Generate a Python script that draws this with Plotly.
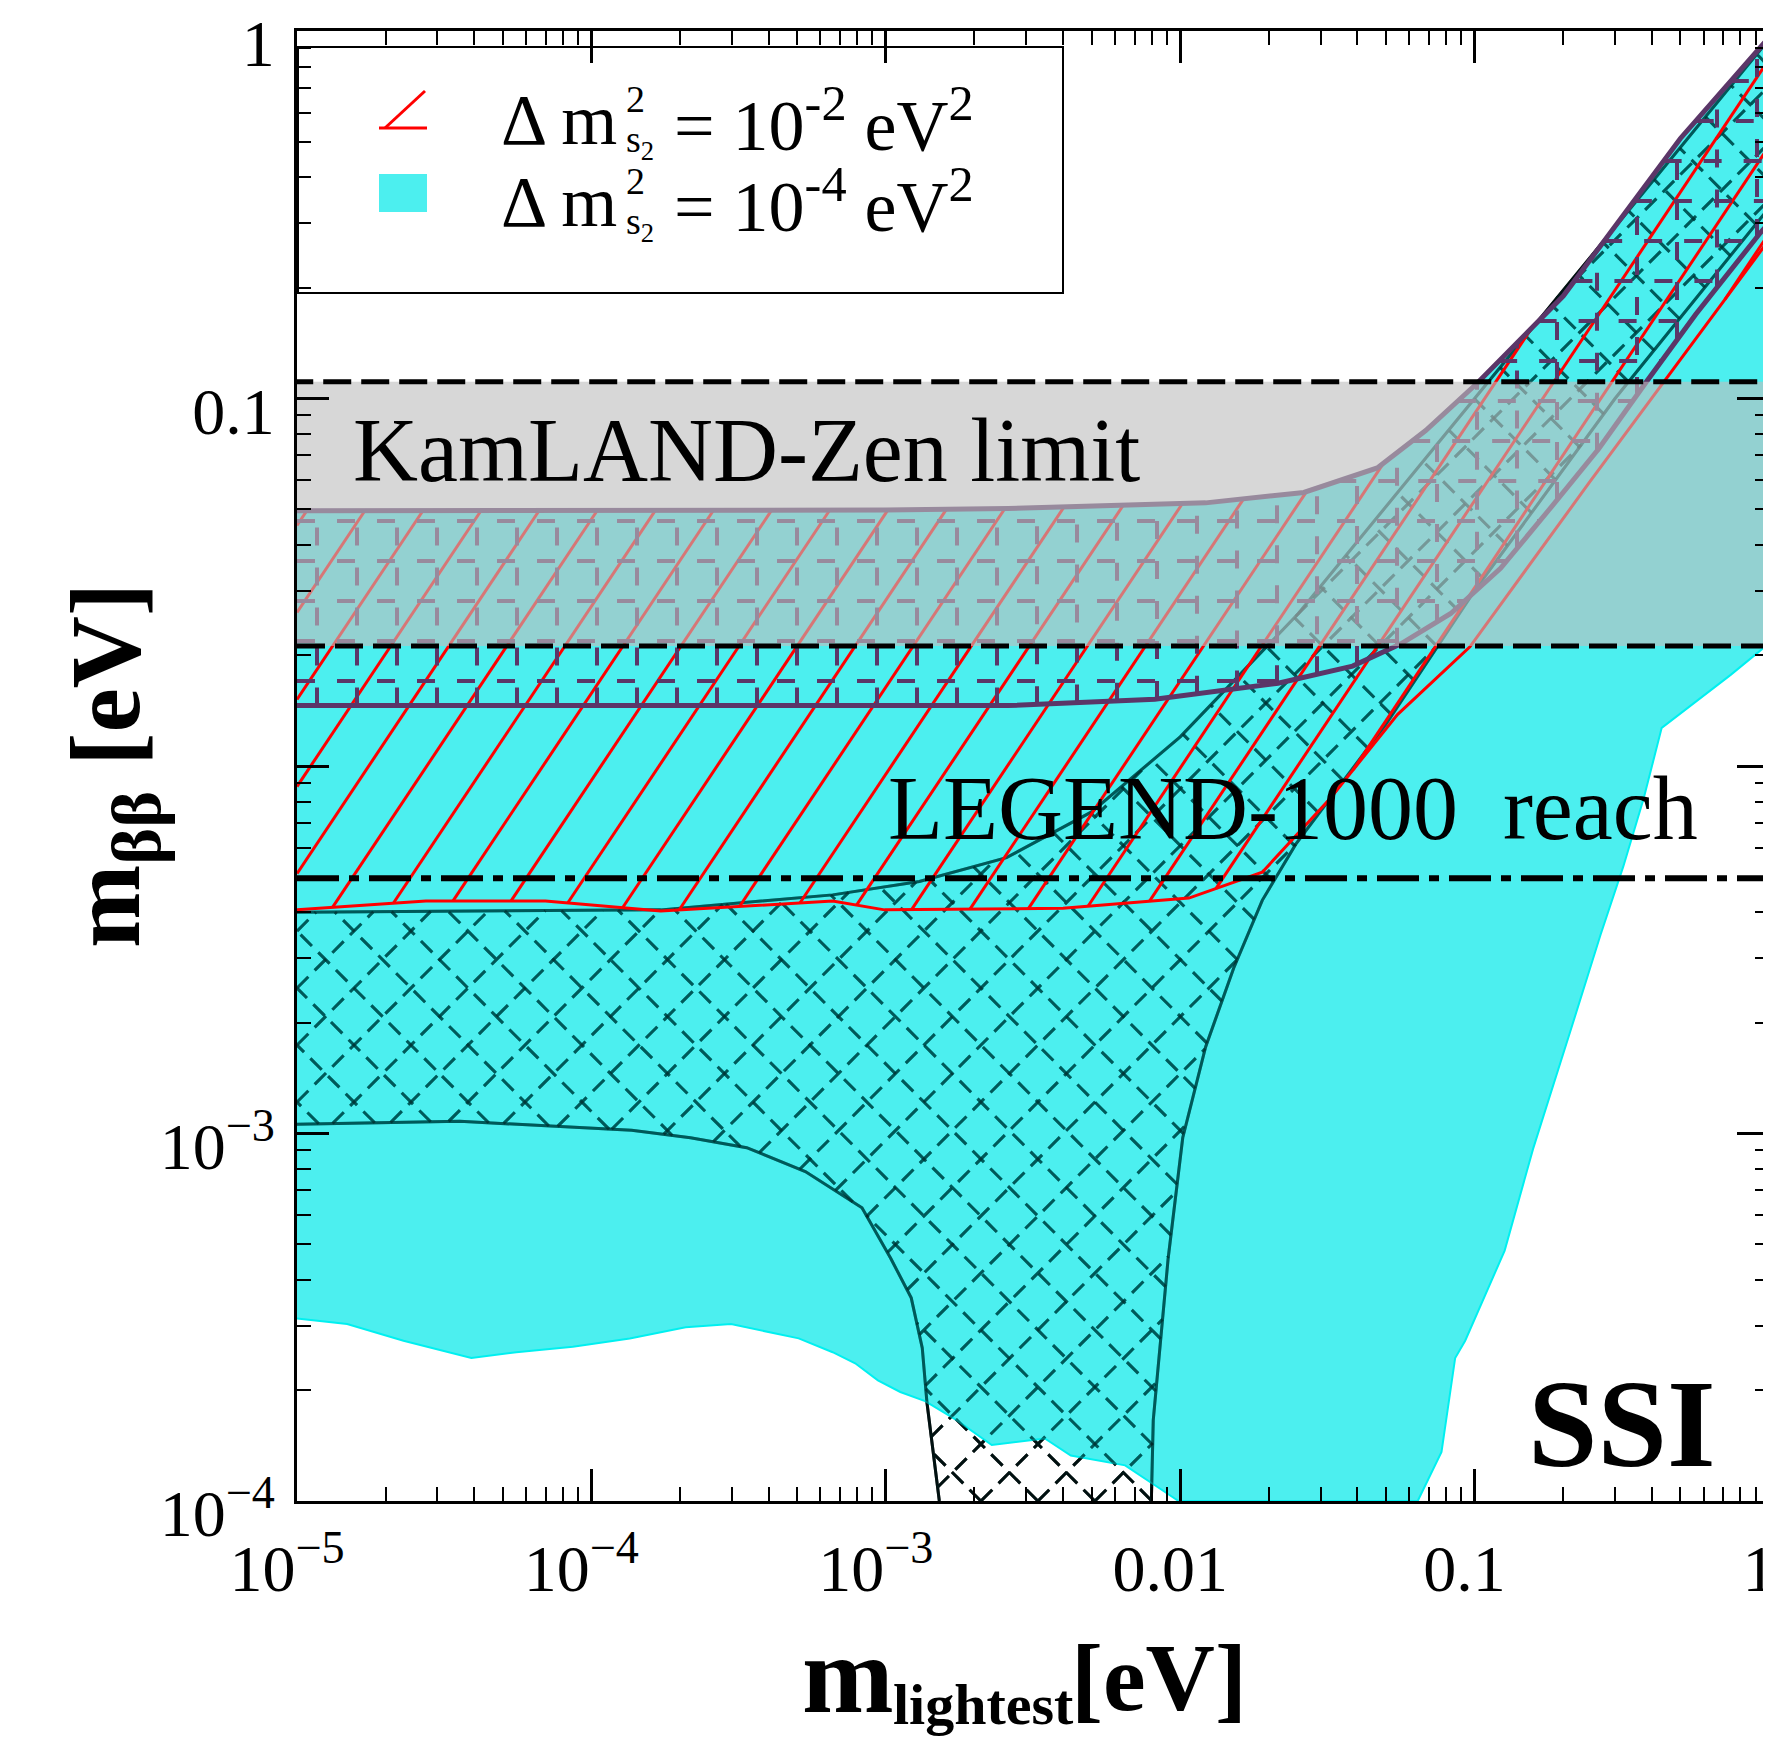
import math
import plotly.graph_objects as go

# ---------------- data ----------------
# 3-nu inverted-ordering-like band (purple, "+" hatch)
io_upper_m = [1e-5, 1e-4, 1e-3, 2.6e-3, 0.0122, 0.0263, 0.0467, 0.0682, 0.102, 0.2, 0.5, 1.0]
io_upper_mbb = [0.0495, 0.0495, 0.0497, 0.0502, 0.052, 0.0555, 0.0647, 0.0818, 0.110, 0.19, 0.51, 0.96]
io_lower_m = [1e-5, 2.6e-3, 8.2e-3, 0.0215, 0.0385, 0.0562, 0.083, 0.1225, 0.179, 0.264, 0.385, 0.564, 0.933, 1.0]
io_lower_mbb = [0.0146, 0.0146, 0.0152, 0.0168, 0.0187, 0.0215, 0.026, 0.0345, 0.0498, 0.073, 0.1116, 0.1695, 0.282, 0.30]

# Delta m^2 = 1e-4 eV^2 region (cyan): right edge and lower edge
cyan_right_m = [1.0, 0.975, 0.741, 0.432, 0.375, 0.320, 0.268, 0.215, 0.158, 0.1265, 0.0929, 0.0859, 0.0772, 0.0641]
cyan_right_mbb = [0.0227, 0.0212, 0.0177, 0.0127, 0.00814, 0.00533, 0.00348, 0.00198, 9.08e-4, 4.8e-4, 2.73e-4, 2.45e-4, 1.36e-4, 1e-4]
cyan_low_m = [9.87e-3, 8.4e-3, 6.5e-3, 4.25e-3, 3.47e-3, 2.29e-3, 1.74e-3, 1.36e-3, 1.12e-3, 9.4e-4, 7.87e-4,
              6.6e-4, 5.06e-4, 2.98e-4, 2.09e-4, 1.35e-4, 8.65e-5, 5.56e-5, 3.91e-5, 2.3e-5, 1.48e-5, 1e-5]
cyan_low_mbb = [1e-4, 1.09e-4, 1.25e-4, 1.33e-4, 1.48e-4, 1.42e-4, 1.66e-4, 1.87e-4, 1.98e-4, 2.13e-4, 2.37e-4,
                2.54e-4, 2.77e-4, 3.03e-4, 2.97e-4, 2.77e-4, 2.63e-4, 2.54e-4, 2.45e-4, 2.73e-4, 3.03e-4, 3.14e-4]

# 3-nu normal-ordering-like region (dark "x" hatch)
no_upper_m = [1e-5, 1.72e-4, 6.6e-4, 1.3e-3, 2.57e-3, 5e-3, 0.01, 0.0252, 0.1, 1.0]
no_upper_mbb = [0.0040, 0.00406, 0.00446, 0.00485, 0.00563, 0.0075, 0.012, 0.026, 0.1, 0.95]
no_left_m = [1e-5, 3.57e-5, 1.37e-4, 2.17e-4, 3.37e-4, 5.33e-4, 8.3e-4, 1.04e-3, 1.22e-3, 1.33e-3, 1.38e-3, 1.52e-3]
no_left_mbb = [1.06e-3, 1.08e-3, 1.02e-3, 9.74e-4, 9.15e-4, 7.88e-4, 6.28e-4, 4.57e-4, 3.57e-4, 2.61e-4, 1.85e-4, 1e-4]
no_right_m = [7.98e-3, 8.1e-3, 9.1e-3, 0.0102, 0.0122, 0.0152, 0.019, 0.0247, 0.05, 0.1, 0.3, 1.0]
no_right_mbb = [1e-4, 1.66e-4, 4.57e-4, 9.74e-4, 1.72e-3, 2.82e-3, 4.31e-3, 6.13e-3, 0.013, 0.03, 0.1, 0.33]

# Delta m^2 = 1e-2 eV^2 region (red "/" hatch): lower edge (upper edge = io_upper)
red_low_m = [1e-5, 2.74e-5, 6.98e-5, 1.72e-4, 6.6e-4, 9.9e-4, 4.0e-3, 0.0107, 0.019, 0.0322, 0.0547, 0.0964, 0.245, 1.0]
red_low_mbb = [0.00406, 0.00429, 0.00429, 0.00403, 0.00429, 0.00406, 0.0041, 0.00437, 0.00514, 0.00813, 0.0138, 0.0211, 0.059, 0.27]

# experimental limits
x_span = [1e-5, 1.0]
kamland_band = [0.0212, 0.111]
legend1000_reach = 0.00495

x_tickvals = [1e-5, 1e-4, 1e-3, 1e-2, 1e-1, 1]
x_ticktext = ["10<sup>\u22125</sup>", "10<sup>\u22124</sup>", "10<sup>\u22123</sup>", "0.01", "0.1", "1"]
y_tickvals = [1e-4, 1e-3, 1e-2, 1e-1, 1]
y_ticktext = ["10<sup>\u22124</sup>", "10<sup>\u22123</sup>", "", "0.1", "1"]

# ---------------- styles ----------------
FONT = "Liberation Serif, Times New Roman, serif"
PURPLE = "#5b3668"
CYAN_FILL = "rgba(0,232,232,0.70)"
W, H = 1771, 1739
L, R, T, B = 289, 1761, 23, 1493
X_LOG_RANGE = (-5.0, 0.0)
Y_LOG_RANGE = (-4.0, 0.0)
PX_PER_DEC_X = (R - L) / (X_LOG_RANGE[1] - X_LOG_RANGE[0])
PX_PER_DEC_Y = (B - T) / (Y_LOG_RANGE[1] - Y_LOG_RANGE[0])


def pxx(X):
    return (X - L) / (R - L)


def pyy(Y):
    return (B - Y) / (B - T)


def to_px(x, y):
    return ((math.log10(x) - X_LOG_RANGE[0]) * PX_PER_DEC_X, (math.log10(y) - Y_LOG_RANGE[0]) * PX_PER_DEC_Y)


def from_px(u, v):
    return (10 ** (u / PX_PER_DEC_X + X_LOG_RANGE[0]), 10 ** (v / PX_PER_DEC_Y + Y_LOG_RANGE[0]))


def hatch_segments(poly_x, poly_y, angle_deg, spacing, phase=0.0):
    """Hatch lines (at an on-screen angle and spacing) clipped to a data polygon."""
    th = math.radians(angle_deg)
    d = (math.cos(th), math.sin(th))
    nrm = (-math.sin(th), math.cos(th))
    pts = [to_px(a, b) for a, b in zip(poly_x, poly_y)]
    proj = [nrm[0] * u + nrm[1] * v for u, v in pts]
    n = len(pts)
    k = math.floor((min(proj) - phase) / spacing)
    hx, hy = [], []
    while phase + k * spacing <= max(proj):
        c = phase + k * spacing + 1e-7
        inter = []
        for i in range(n):
            (u1, v1), (u2, v2) = pts[i], pts[(i + 1) % n]
            f1 = nrm[0] * u1 + nrm[1] * v1 - c
            f2 = nrm[0] * u2 + nrm[1] * v2 - c
            if (f1 > 0) != (f2 > 0):
                t = f1 / (f1 - f2)
                u, v = u1 + t * (u2 - u1), v1 + t * (v2 - v1)
                inter.append((d[0] * u + d[1] * v, u, v))
        inter.sort()
        for j in range(0, len(inter) - 1, 2):
            _, ua, va = inter[j]
            _, ub, vb = inter[j + 1]
            xa, ya = from_px(ua, va)
            xb, yb = from_px(ub, vb)
            hx += [xa, xb, None]
            hy += [ya, yb, None]
        k += 1
    return hx, hy


def add_lines(fig, xs, ys, color, width, dash="solid"):
    fig.add_trace(go.Scatter(x=xs, y=ys, mode="lines", line=dict(color=color, width=width, dash=dash),
                             connectgaps=False, hoverinfo="skip", showlegend=False))


fig = go.Figure()

# ---- NO region (dashed "x" hatch), first layer below cyan
no_x = no_upper_m + no_right_m[::-1] + no_left_m[::-1]
no_y = no_upper_mbb + no_right_mbb[::-1] + no_left_mbb[::-1]
no_h1 = hatch_segments(no_x, no_y, 45, 40.3, 0)
no_h2 = hatch_segments(no_x, no_y, 135, 40.3, 0)
NO_DASH = "16px,9px"
add_lines(fig, *no_h1, "black", 3, NO_DASH)
add_lines(fig, *no_h2, "black", 3, NO_DASH)
for xs, ys in [(no_left_m, no_left_mbb), (no_right_m, no_right_mbb), (no_upper_m, no_upper_mbb)]:
    add_lines(fig, xs, ys, "black", 3)

# ---- cyan region
cy_x = io_upper_m + cyan_right_m + cyan_low_m
cy_y = io_upper_mbb + cyan_right_mbb + cyan_low_mbb
fig.add_trace(go.Scatter(x=cy_x, y=cy_y, mode="lines", fill="toself", fillcolor=CYAN_FILL,
                         line=dict(color="#00f0f0", width=2), hoverinfo="skip", showlegend=False))

# ---- NO hatch again, darkening it under the cyan layer
DARK = "rgba(0,30,30,0.55)"
add_lines(fig, *no_h1, DARK, 3, NO_DASH)
add_lines(fig, *no_h2, DARK, 3, NO_DASH)
for xs, ys in [(no_left_m, no_left_mbb), (no_right_m, no_right_mbb), (no_upper_m, no_upper_mbb)]:
    add_lines(fig, xs, ys, DARK, 3)

# ---- red region (steep "/" hatch)
rd_x = io_upper_m + red_low_m[::-1]
rd_y = io_upper_mbb + red_low_mbb[::-1]
red_h = hatch_segments(rd_x, rd_y, 56.3, 48.3, 10)
add_lines(fig, *red_h, "red", 3)
add_lines(fig, red_low_m, red_low_mbb, "red", 3)

# ---- IO band (dashed "+" hatch)
io_x = io_upper_m + io_lower_m[::-1]
io_y = io_upper_mbb + io_lower_mbb[::-1]
io_h1 = hatch_segments(io_x, io_y, 0, 40, 20)
io_h2 = hatch_segments(io_x, io_y, 90, 40, 20)
add_lines(fig, *io_h1, PURPLE, 4, "18px,22px")
add_lines(fig, *io_h2, PURPLE, 4, "18px,22px")
for xs, ys in [(io_upper_m, io_upper_mbb), (io_lower_m, io_lower_mbb)]:
    add_lines(fig, xs, ys, PURPLE, 5)

# ---- KamLAND-Zen band
kz_x = [x_span[0], x_span[1], x_span[1], x_span[0]]
kz_y = [kamland_band[0], kamland_band[0], kamland_band[1], kamland_band[1]]
fig.add_trace(go.Scatter(x=kz_x, y=kz_y, mode="lines", fill="toself", fillcolor="rgba(190,190,190,0.62)",
                         line=dict(color="black", width=5, dash="28px,10px"),
                         hoverinfo="skip", showlegend=False))

# ---- LEGEND-1000 reach
add_lines(fig, x_span, [legend1000_reach, legend1000_reach], "black", 6, "42px,10px,10px,10px")

axis_common = dict(type="log", showgrid=False, zeroline=False, showline=True, linecolor="black",
                   linewidth=3, mirror="allticks", ticks="inside", ticklen=32, tickwidth=3,
                   tickcolor="black", tickfont=dict(family=FONT, size=66, color="black"),
                   ticklabeloverflow="allow", automargin=False,
                   minor=dict(ticks="inside", ticklen=14, tickwidth=2, tickcolor="black",
                              dtick="D1", showgrid=False))

fig.update_xaxes(range=list(X_LOG_RANGE), tickmode="array", tickvals=x_tickvals, ticktext=x_ticktext,
                 ticklabelstandoff=8, ticklabelshift=-10, **axis_common)
fig.update_yaxes(range=list(Y_LOG_RANGE), tickmode="array", tickvals=y_tickvals, ticktext=y_ticktext,
                 ticklabelstandoff=6, ticklabelshift=12, **axis_common)

ann = []
# in-plot labels
ann.append(dict(text="KamLAND-Zen limit", x=pxx(343), y=pyy(442), xanchor="left", yanchor="middle",
                font=dict(family=FONT, size=90, color="black")))
ann.append(dict(text="LEGEND-1000\u00a0\u00a0reach", x=pxx(878), y=pyy(800), xanchor="left", yanchor="middle",
                font=dict(family=FONT, size=90, color="black")))
ann.append(dict(text="<b>SSI</b>", x=pxx(1614), y=pyy(1416), xanchor="center", yanchor="middle",
                font=dict(family=FONT, size=125, color="black")))
# x-axis title, assembled from pieces
ann.append(dict(text="<b>m</b>", x=pxx(792), y=pyy(1667), xanchor="left", yanchor="middle",
                font=dict(family=FONT, size=110, color="black")))
ann.append(dict(text="<b>lightest</b>", x=pxx(883), y=pyy(1697), xanchor="left", yanchor="middle",
                font=dict(family=FONT, size=58, color="black")))
ann.append(dict(text="<b>[eV]</b>", x=pxx(1061), y=pyy(1670), xanchor="left", yanchor="middle",
                font=dict(family=FONT, size=96, color="black")))
# y-axis title
ann.append(dict(text="<b>m<sub>\u03b2\u03b2</sub> [eV]</b>", x=pxx(104), y=pyy(758), xanchor="center",
                yanchor="middle", textangle=-90, font=dict(family=FONT, size=100, color="black")))
# legend texts
for base, exp in [(146, "-2"), (228, "-4")]:
    ann.append(dict(text="\u0394 m", x=pxx(491), y=pyy(base - 34), xanchor="left", yanchor="middle",
                    font=dict(family=FONT, size=72, color="black")))
    ann.append(dict(text="2", x=pxx(616), y=pyy(base - 55), xanchor="left", yanchor="middle",
                    font=dict(family=FONT, size=38, color="black")))
    ann.append(dict(text="s<sub>2</sub>", x=pxx(616), y=pyy(base - 12), xanchor="left", yanchor="middle",
                    font=dict(family=FONT, size=38, color="black")))
    ann.append(dict(text="= 10<sup>%s</sup> eV<sup>2</sup>" % exp, x=pxx(664), y=pyy(base - 34),
                    xanchor="left", yanchor="middle", font=dict(family=FONT, size=72, color="black")))
for a in ann:
    a.update(xref="paper", yref="paper", showarrow=False)

shapes = [
    # legend box
    dict(type="rect", xref="paper", yref="paper", x0=pxx(290), x1=pxx(1055), y0=pyy(285), y1=pyy(39),
         line=dict(color="black", width=2), fillcolor="rgba(0,0,0,0)"),
    # red legend symbol
    dict(type="line", xref="paper", yref="paper", x0=pxx(417), y0=pyy(83), x1=pxx(377), y1=pyy(120),
         line=dict(color="red", width=3)),
    dict(type="line", xref="paper", yref="paper", x0=pxx(371), y0=pyy(120), x1=pxx(419), y1=pyy(120),
         line=dict(color="red", width=3)),
    # cyan legend symbol
    dict(type="rect", xref="paper", yref="paper", x0=pxx(371), x1=pxx(419), y0=pyy(204), y1=pyy(166),
         line=dict(width=0), fillcolor=CYAN_FILL),
]

fig.update_layout(width=W, height=H, margin=dict(l=L, r=W - R, t=T, b=H - B, pad=0, autoexpand=False),
                  paper_bgcolor="white", plot_bgcolor="white", annotations=ann, shapes=shapes,
                  showlegend=False, font=dict(family=FONT, color="black"))

fig.write_html("out.html")
